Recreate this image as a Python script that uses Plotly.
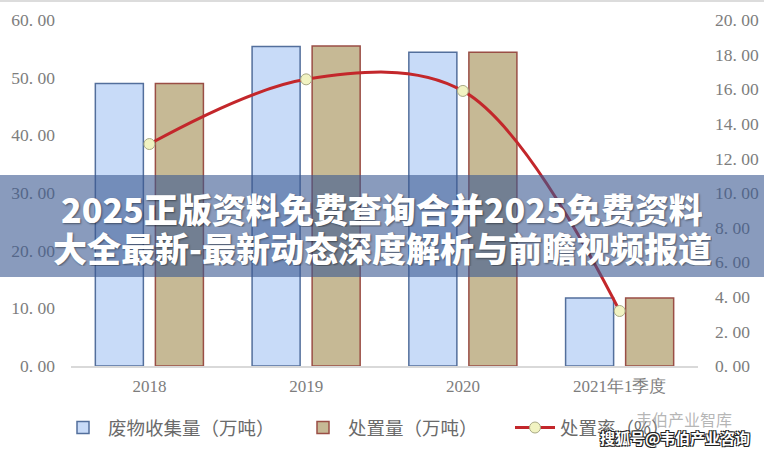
import plotly.graph_objects as go

categories = ["2018", "2019", "2020", "2021年1季度"]
collected = [49.0, 55.4, 54.4, 11.8]
disposed = [49.0, 55.5, 54.4, 11.8]
rate = [12.83, 16.57, 15.9, 3.18]
names = ["废物收集量（万吨）", "处置量（万吨）", "处置率（%）"]
left_ticks = [0, 10, 20, 30, 40, 50, 60]
right_ticks = [0, 2, 4, 6, 8, 10, 12, 14, 16, 18, 20]
banner_lines = ["2025正版资料免费查询合并2025免费资料", "大全最新-最新动态深度解析与前瞻视频报道"]
watermarks = ["韦伯产业智库", "搜狐号@韦伯产业咨询"]


def fmt(v):
    return f"{v:.2f}".replace(".", ". ")


W, H = 764, 453
ML, MR, MT, MB = 71, 66, 20, 87
PW, PH = W - ML - MR, H - MT - MB


def px(x):
    return (x - ML) / PW


def py(y):
    return (H - MB - y) / PH


tick_font = dict(family="Liberation Serif, DejaVu Serif, serif", size=17.5, color="#7d7d7d")
legend_font = dict(family="Noto Sans CJK SC", size=18.5, color="#6a6a6a")

fig = go.Figure()
fig.add_trace(go.Bar(
    x=categories, y=collected, name=names[0], legend="legend",
    marker=dict(color="#c8dbf8", line=dict(color="#536f9c", width=1.5)),
))
fig.add_trace(go.Bar(
    x=categories, y=disposed, name=names[1], legend="legend2",
    marker=dict(color="#c6b995", line=dict(color="#9a4e45", width=1.5)),
))
fig.add_trace(go.Scatter(
    x=categories, y=rate, name=names[2], yaxis="y2", legend="legend3",
    mode="lines+markers",
    line=dict(color="#c3272b", width=3, shape="spline", smoothing=1.0),
    marker=dict(symbol="circle", size=11, color="#f1f3c2", line=dict(color="#a9aa86", width=1)),
))


def leg(x):
    return dict(
        orientation="h", xref="container", yref="container",
        x=x / W, y=1 - 428 / H, xanchor="left", yanchor="middle",
        font=legend_font, itemwidth=40, bgcolor="rgba(0,0,0,0)",
    )


banner_font = dict(family="Noto Sans CJK SC", size=34, color="white", weight=900,
                   shadow="1px 1px 2px rgba(0,0,0,0.45)")

fig.update_layout(
    width=W, height=H,
    margin=dict(l=ML, r=MR, t=MT, b=MB, autoexpand=False),
    paper_bgcolor="white", plot_bgcolor="white",
    barmode="group", bargap=0.234, bargroupgap=0.2,
    showlegend=True,
    legend=leg(58), legend2=leg(298), legend3=leg(510),
    xaxis=dict(
        showline=True, linecolor="#d9d9d9", linewidth=1.5, automargin=False,
        showgrid=False, ticks="", tickfont=dict(tick_font, size=17),
        ticklabelstandoff=4,
    ),
    yaxis=dict(
        range=[0, 60], tickvals=left_ticks, ticktext=[fmt(v) for v in left_ticks],
        showgrid=False, zeroline=False, showline=False, automargin=False,
        tickfont=tick_font, ticklabelstandoff=15,
    ),
    yaxis2=dict(
        range=[0, 20], tickvals=right_ticks, ticktext=[fmt(v) for v in right_ticks],
        overlaying="y", side="right", automargin=False,
        showgrid=False, zeroline=False, showline=False,
        tickfont=tick_font, ticklabelstandoff=16,
    ),
    shapes=[
        dict(type="line", xref="paper", yref="paper",
             x0=px(0), x1=px(W), y0=py(1), y1=py(1),
             line=dict(color="#dcdcdc", width=2), layer="above"),
        dict(type="rect", xref="paper", yref="paper",
             x0=px(0), x1=px(W), y0=py(277), y1=py(175),
             fillcolor="rgba(58,88,145,0.6)", line=dict(width=0), layer="above"),
    ],
    annotations=[
        dict(text=banner_lines[0], xref="paper", yref="paper",
             x=px(382), y=py(208), showarrow=False, xanchor="center", yanchor="middle",
             height=38, font=banner_font),
        dict(text=banner_lines[1], xref="paper", yref="paper",
             x=px(382), y=py(247), showarrow=False, xanchor="center", yanchor="middle",
             height=38, font=banner_font),
        dict(text=watermarks[0], xref="paper", yref="paper",
             x=px(684), y=py(419), showarrow=False, xanchor="center", yanchor="middle",
             font=dict(family="Noto Sans CJK SC", size=16, color="rgba(150,150,150,0.7)")),
        dict(text=watermarks[1], xref="paper", yref="paper",
             x=px(675), y=py(437), showarrow=False, xanchor="center", yanchor="middle",
             font=dict(family="Noto Sans CJK SC", size=15, color="white", weight="bold",
                       shadow="-1px -1px 0 #222, 1px -1px 0 #222, -1px 1px 0 #222, 1px 1px 0 #222")),
    ],
)

fig.write_html("out.html", config={"displayModeBar": False},
               post_script="document.body.style.margin='0';")
